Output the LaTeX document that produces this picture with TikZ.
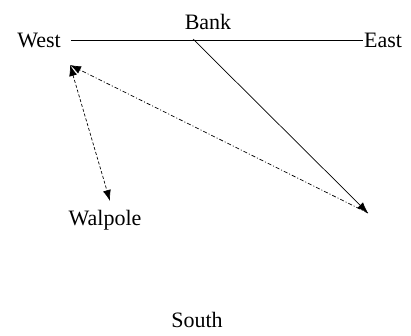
\documentclass[tikz,border=0pt]{standalone}
\usepackage{fontspec}
\setmainfont{Liberation Serif}
\usetikzlibrary{arrows.meta}
\begin{document}
\begin{tikzpicture}[x=1pt,y=-1pt,
  every node/.style={font=\fontsize{22}{24}\selectfont,inner sep=1pt},
  tip/.style={-{Latex[length=11pt,width=8pt]}}]

\useasboundingbox (0,0) rectangle (411,335);

\node (west) at (39,40) {West};
\node (east) at (383,40) {East};
\node (bank) at (208,22) {Bank};
\node (walpole) at (105,220) {Walpole};
\node (south) at (197,320) {South};

\coordinate (bk) at (193,39);
\coordinate (nw) at (70,65);
\coordinate (se) at (368,213);
\coordinate (wp) at (110,201);

\draw[line width=0.8pt] ([xshift=9pt]west.east) -- (east.west);
\draw[tip,line width=0.7pt] (bk) -- (se);
\draw[tip,line width=0.7pt,dash pattern=on 4pt off 2pt on 1pt off 2pt] (se) -- (nw);
\draw[{Latex[length=11pt,width=8pt]}-{Latex[length=11pt,width=8pt]},line width=0.7pt,dash pattern=on 3pt off 2pt] (nw) -- (wp);

\end{tikzpicture}
\end{document}
